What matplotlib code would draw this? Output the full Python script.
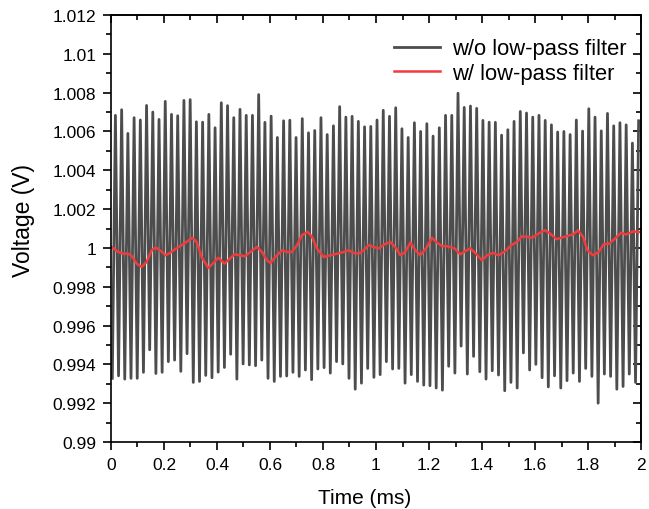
import numpy as np
import matplotlib
matplotlib.use("Agg")
import matplotlib.pyplot as plt
from matplotlib.ticker import MultipleLocator, FuncFormatter

# ---- data ----
# peaks / troughs of the unfiltered signal (alternating trough, peak, ...)
peaks = [1.00683, 1.00712, 1.0059, 1.00671, 1.00659, 1.00734, 1.0070, 1.00662, 1.00755, 1.00688,
         1.00681, 1.0076, 1.00764, 1.0065, 1.00648, 1.00688, 1.00619, 1.00748, 1.00733, 1.00671,
         1.00714, 1.00683, 1.00683, 1.0079, 1.00647, 1.00679, 1.00569, 1.00655, 1.00658,
         1.00569, 1.00666, 1.00593, 1.00605, 1.00671, 1.00584, 1.00629, 1.00728, 1.00674, 1.00678,
         1.00652, 1.00624, 1.00626, 1.00659, 1.00709, 1.00678, 1.00722, 1.00614, 1.00569, 1.00645,
         1.0060, 1.0064, 1.00576, 1.00619, 1.00683, 1.00683, 1.00797, 1.00724, 1.00731,
         1.00719, 1.00657, 1.00648, 1.00647, 1.00581, 1.00609, 1.00652, 1.00703, 1.00695, 1.00674,
         1.00683, 1.00657, 1.00634, 1.00597, 1.0060, 1.00584, 1.00659, 1.00602, 1.00717, 1.00674,
         1.00603, 1.00693, 1.00629, 1.00645, 1.00634, 1.0054, 1.00655]
troughs = [0.99328, 0.99341, 0.99324, 0.99328, 0.99328, 0.99359, 0.99475, 0.99353, 0.99359, 0.99414,
           0.99422, 0.99364, 0.99455, 0.99307, 0.99312, 0.99343, 0.99331, 0.9936, 0.99384, 0.99452,
           0.99324, 0.99402, 0.99397, 0.99393, 0.99422, 0.99328, 0.99312, 0.99338, 0.9934,
           0.99359, 0.99338, 0.99371, 0.99321, 0.99376, 0.99383, 0.99355, 0.99414, 0.99402, 0.99328,
           0.99272, 0.99303, 0.99379, 0.99333, 0.99347, 0.99414, 0.99376, 0.99379, 0.99303, 0.99347,
           0.99312, 0.99293, 0.9929, 0.99278, 0.99267, 0.9939, 0.99355, 0.99494, 0.9935,
           0.99441, 0.99362, 0.99324, 0.99367, 0.99345, 0.99264, 0.99307, 0.99278, 0.99459, 0.99371,
           0.994, 0.99331, 0.99284, 0.99341, 0.99278, 0.99316, 0.99355, 0.99312, 0.99379, 0.99338,
           0.992, 0.9935, 0.99338, 0.99272, 0.99286, 0.9935, 0.99307]
t_first = 0.005      # ms, first trough
t_last = 1.991       # ms, last peak

# filtered signal (time in ms, voltage in V)
filt_t = [0.0025, 0.0277, 0.0465, 0.0654, 0.078, 0.0969, 0.1157, 0.1346, 0.1535, 0.1686,
          0.185, 0.2063, 0.2226, 0.2415, 0.2667, 0.2855, 0.3069, 0.3233, 0.3421, 0.3673,
          0.3862, 0.405, 0.4277, 0.4453, 0.4654, 0.4868, 0.5057, 0.5258, 0.5509, 0.5698,
          0.5887, 0.6013, 0.6201, 0.6453, 0.6642, 0.683, 0.7019, 0.7208, 0.7421, 0.7585,
          0.7774, 0.8025, 0.8277, 0.8528, 0.878, 0.8969, 0.9157, 0.9346, 0.9535, 0.9723,
          0.9912, 1.0101, 1.0327, 1.0541, 1.0767, 1.0918, 1.1107, 1.1296, 1.1484, 1.1673,
          1.1925, 1.2113, 1.2264, 1.2491, 1.2679, 1.2969, 1.3182, 1.3371, 1.356, 1.3774,
          1.4, 1.4189, 1.4403, 1.4629, 1.488, 1.5107, 1.5321, 1.5509, 1.5698, 1.5887,
          1.6138, 1.6377, 1.6566, 1.6818, 1.7006, 1.7245, 1.7459, 1.7623, 1.7811, 1.7975,
          1.8188, 1.8403, 1.8591, 1.8805, 1.9057, 1.9245, 1.9434, 1.97, 1.995]
filt_v = [1.00005, 0.99979, 0.9997, 0.9997, 0.99959, 0.99919, 0.99902, 0.99928, 0.99988, 1.00002,
          0.99988, 0.99962, 0.99974, 0.99993, 1.00014, 1.00031, 1.00052, 1.00031, 0.99953, 0.99897,
          0.99922, 0.9995, 0.99919, 0.9994, 0.99967, 0.99962, 0.99957, 0.99979, 1.00005, 0.99979,
          0.99936, 0.99922, 0.99953, 0.99988, 0.99979, 0.99979, 1.00014, 1.00066, 1.00083, 1.00057,
          0.99997, 0.99953, 0.99962, 0.9997, 0.99979, 0.99988, 0.99974, 0.9997, 0.99988, 1.00014,
          1.00005, 0.99997, 1.00019, 1.00031, 0.99997, 0.99962, 0.99979, 1.00028, 0.99988, 0.99962,
          1.00005, 1.00052, 1.00031, 1.00009, 1.00009, 0.99997, 0.99967, 0.99984, 0.99998, 0.9997,
          0.99936, 0.99962, 0.99974, 0.99962, 0.99984, 1.00014, 1.00031, 1.0006, 1.00057, 1.00052,
          1.00074, 1.00091, 1.00074, 1.00045, 1.00053, 1.00062, 1.00071, 1.00091, 1.00057, 0.99988,
          0.99962, 0.99979, 1.00019, 1.00022, 1.00053, 1.00078, 1.00069, 1.00085, 1.00082]

labels = ["w/o low-pass filter", "w/ low-pass filter"]

# ---- build raw series ----
raw_v = np.empty(2 * len(peaks))
raw_v[0::2] = troughs
raw_v[1::2] = peaks
raw_t = np.linspace(t_first, t_last, len(raw_v))

plt.rcParams['font.family'] = ['Liberation Sans', 'DejaVu Sans']
fig = plt.figure(figsize=(6.49, 5.10), dpi=100)
ax = fig.add_axes([0.171, 0.1314, 0.8167, 0.8372])

ax.plot(raw_t, raw_v, color='#4d4d4d', lw=2.0, label=labels[0])
ax.plot(filt_t, filt_v, color='#f03c3c', lw=1.8, label=labels[1])

ax.set_xlim(0, 2)
ax.set_ylim(0.99, 1.012)
ax.xaxis.set_major_locator(MultipleLocator(0.2))
ax.xaxis.set_minor_locator(MultipleLocator(0.1))
ax.yaxis.set_major_locator(MultipleLocator(0.002))
ax.yaxis.set_minor_locator(MultipleLocator(0.001))

def fmt(v, pos):
    return f"{v:.3f}".rstrip('0').rstrip('.')
ax.xaxis.set_major_formatter(FuncFormatter(fmt))
ax.yaxis.set_major_formatter(FuncFormatter(fmt))

for sp in ax.spines.values():
    sp.set_linewidth(1.2)
ax.tick_params(which='both', direction='out', width=1.2, labelsize=12.5, pad=4.5)
ax.tick_params(which='major', length=6)
ax.tick_params(which='minor', length=3.5)

# mirrored ticks on the right/top pointing inward
axr = ax.secondary_yaxis('right')
axr.yaxis.set_major_locator(MultipleLocator(0.002))
axr.yaxis.set_minor_locator(MultipleLocator(0.001))
axr.tick_params(which='both', direction='in', width=1.2, labelright=False)
axr.tick_params(which='major', length=6)
axr.tick_params(which='minor', length=3.5)
axr.spines['right'].set_linewidth(1.2)
axt = ax.secondary_xaxis('top')
axt.xaxis.set_major_locator(MultipleLocator(0.2))
axt.xaxis.set_minor_locator(MultipleLocator(0.1))
axt.tick_params(which='both', direction='in', width=1.2, labeltop=False)
axt.tick_params(which='major', length=6)
axt.tick_params(which='minor', length=3.5)
axt.spines['top'].set_linewidth(1.2)

ax.set_xlabel("Time (ms)", fontsize=15)
ax.set_ylabel("Voltage (V)", fontsize=16.5)
ax.xaxis.set_label_coords(0.478, -0.107)
ax.yaxis.set_label_coords(-0.143, 0.522)

leg = ax.legend(loc='upper right', bbox_to_anchor=(0.972, 0.945), frameon=False,
                fontsize=15.8, handlelength=2.1, handletextpad=0.55,
                borderaxespad=0, borderpad=0, labelspacing=0.15)

fig.savefig("out.png", dpi=100)
